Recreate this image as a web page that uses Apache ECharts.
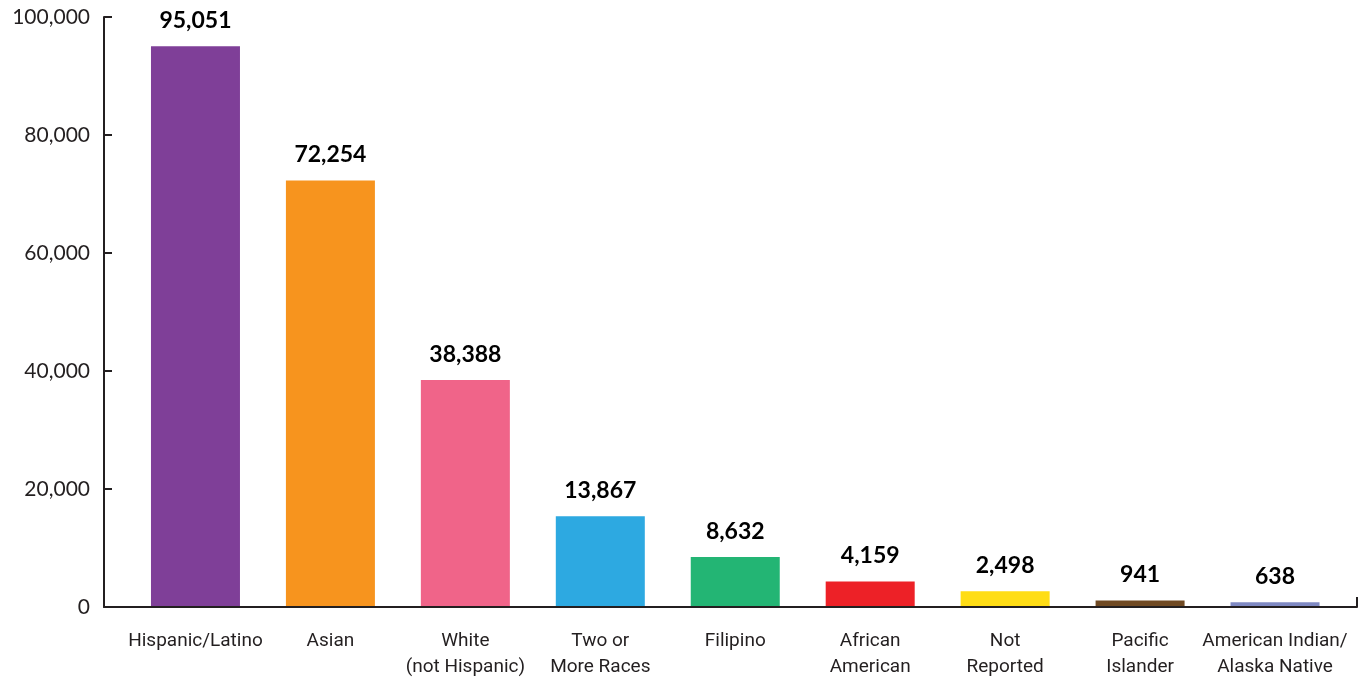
<!DOCTYPE html>
<html>
<head>
<meta charset="utf-8">
<script src="https://cdn.jsdelivr.net/npm/echarts@6/dist/echarts.min.js"></script>
<style>
html,body{margin:0;padding:0;background:#fff;}
#chart{width:1363px;height:680px;}
</style>
</head>
<body>
<div id="chart"></div>
<script>
// Categories
const categories = [
  'Hispanic/Latino', 'Asian', 'White\n(not Hispanic)', 'Two or\nMore Races', 'Filipino',
  'African\nAmerican', 'Not\nReported', 'Pacific\nIslander', 'American Indian/\nAlaska Native'
];
// Bar heights as drawn in the picture
const barValues = [95051, 72254, 38388, 15250, 8300, 4159, 2498, 941, 638];
// Printed value labels
const labelValues = [95051, 72254, 38388, 13867, 8632, 4159, 2498, 941, 638];
// Bar colours
const barColors = ['#7F3F98', '#F7941E', '#F06489', '#2DA9E1', '#23B574', '#ED2127', '#FFDD15', '#704A23', '#7F89C3'];
// Y axis ticks
const yMin = 0, yMax = 100000, yStep = 20000;

const chart = echarts.init(document.getElementById('chart'));
const axisColor = '#231F20';
const fmt = v => v.toLocaleString('en-US');

chart.setOption({
  animation: false,
  backgroundColor: '#fff',
  grid: [
    { left: 128, right: 20.5, top: 17, bottom: 73 },
    { left: 104, right: 6, top: 17, bottom: 73 }
  ],
  xAxis: [
    {
      type: 'category', gridIndex: 0, data: categories,
      axisLine: { show: false }, axisTick: { show: false },
      axisLabel: {
        interval: 0, margin: 22, color: '#231F20',
        fontFamily: '"Liberation Sans Narrow", "Roboto", sans-serif',
        fontSize: 19, lineHeight: 26
      }
    },
    {
      type: 'value', gridIndex: 1, min: 0, max: 1, interval: 1,
      axisLine: { show: true, lineStyle: { color: axisColor, width: 2 } },
      axisTick: { show: true, inside: true, length: 10, lineStyle: { color: axisColor, width: 2 } },
      axisLabel: { show: false }, splitLine: { show: false }
    }
  ],
  yAxis: [
    { type: 'value', gridIndex: 0, min: yMin, max: yMax, interval: yStep, show: false },
    {
      type: 'value', gridIndex: 1, min: yMin, max: yMax, interval: yStep,
      axisLine: { show: true, lineStyle: { color: axisColor, width: 2 } },
      axisTick: { show: true, inside: true, length: 8, lineStyle: { color: axisColor, width: 2 } },
      splitLine: { show: false },
      axisLabel: {
        margin: 14, color: '#231F20', fontSize: 21, fontWeight: 'normal',
        fontFamily: 'Lato, "Open Sans", sans-serif',
        formatter: v => fmt(v)
      }
    }
  ],
  series: [
    {
      type: 'bar', xAxisIndex: 0, yAxisIndex: 0,
      barWidth: 89,
      data: barValues.map((v, i) => ({ value: v, itemStyle: { color: barColors[i] } })),
      label: {
        show: true, position: 'top', distance: 14,
        color: '#000', fontSize: 23, fontWeight: 'bold',
        fontFamily: 'Lato, Inter, sans-serif',
        formatter: p => fmt(labelValues[p.dataIndex])
      }
    }
  ]
});
</script>
</body>
</html>
